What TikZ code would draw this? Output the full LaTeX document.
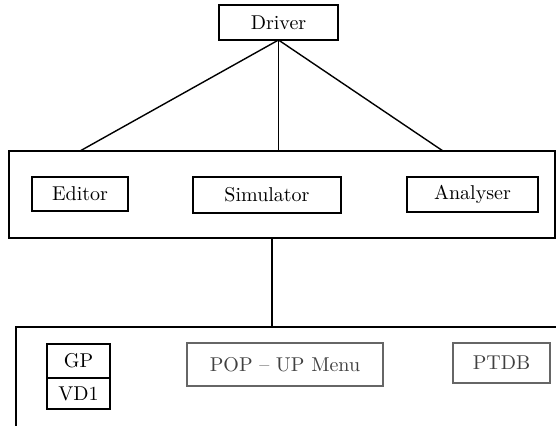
\documentclass[tikz,border=0pt]{standalone}
\usetikzlibrary{positioning}
\begin{document}
\begin{tikzpicture}[x=0.5pt,y=-0.5pt]
\useasboundingbox (0,0) rectangle (556,425);
\clip (0,0) rectangle (556,425);
\tikzset{Frame/.style = {draw, line width=0.8pt, inner sep=0pt, outer sep=0pt},
         Module/.style = {draw, line width=1pt, inner sep=0pt, outer sep=0pt,
                          minimum height=17.5pt},
         Faded/.style = {Module, draw=black!60, text=black!75},
         Link/.style = {line width=0.7pt}
  }
% top
\node[Module, minimum width=59.5pt] (driver) at (278.5,22.5) {Driver};
%-----------------------------
\node[Frame, minimum width=273pt, minimum height=43.5pt] (tools) at (282,194.5) {};
\node[Module, minimum width=48pt, minimum height=17pt] (editor) at (80,194) {Editor};
\node[Module, minimum width=74pt, minimum height=18pt] (simulator) at (267,195) {Simulator};
\node[Module, minimum width=65.5pt] (analyser) at (472.5,194.5) {Analyser};
%-----------------------------
\node[Frame, minimum width=292pt, minimum height=66.5pt] (gui) at (308,393.5) {};
\node[Module, minimum width=31.5pt, minimum height=17pt] (gp) at (78.5,361) {GP};
\node[Module, minimum width=31.5pt, minimum height=15.5pt, below=0pt of gp] (vd) {VD1};
\node[Faded, minimum width=98pt, minimum height=21.5pt] (popup) at (285,364.5) {POP -- UP Menu};
\node[Faded, minimum width=48.5pt, minimum height=20pt] (ptdb) at (501.5,363) {PTDB};

\coordinate (toolsl) at (80,151);
\coordinate (toolsm) at (278.5,151);
\coordinate (toolsr) at (443,151);
\coordinate (drop) at (272,0);

\draw[Link] (driver.south) -- (toolsl);
\draw[Link] (driver.south) -- (toolsm);
\draw[Link] (driver.south) -- (toolsr);
\draw[Link] (tools.south -| drop) -- (gui.north -| drop);

\end{tikzpicture}
\end{document}
